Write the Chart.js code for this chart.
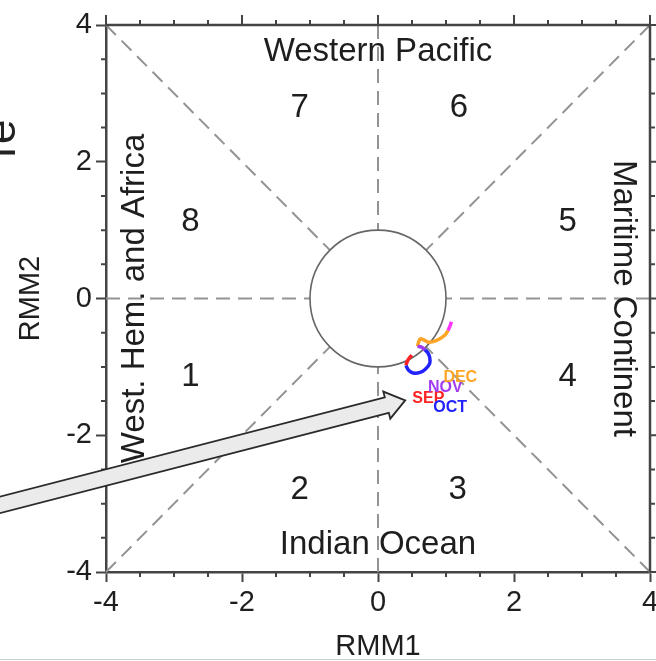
<!DOCTYPE html>
<html>
<head>
<meta charset="utf-8">
<script src="https://cdn.jsdelivr.net/npm/chart.js@4"></script>
<style>
  html, body { margin: 0; padding: 0; background: #fff; overflow: hidden; }
</style>
</head>
<body>
<canvas id="mjoChart" width="656" height="661"></canvas>
<script>
// RMM1 / RMM2 trajectory, one pair of arrays per month
const sepRMM1 = [0.50, 0.46, 0.43, 0.41];
const sepRMM2 = [-0.83, -0.87, -0.92, -0.98];
const octRMM1 = [0.41, 0.45, 0.52, 0.62, 0.70, 0.76, 0.76, 0.73, 0.69];
const octRMM2 = [-0.98, -1.05, -1.09, -1.08, -1.03, -0.95, -0.86, -0.79, -0.75];
const novRMM1 = [0.69, 0.64, 0.58];
const novRMM2 = [-0.75, -0.71, -0.70];
const decRMM1 = [0.58, 0.62, 0.68, 0.74, 0.81, 0.89, 0.99, 1.03];
const decRMM2 = [-0.70, -0.59, -0.61, -0.64, -0.63, -0.60, -0.53, -0.47];
const lastRMM1 = [1.03, 1.06, 1.08];
const lastRMM2 = [-0.47, -0.40, -0.34];

const monthNames = ["SEP", "OCT", "NOV", "DEC"];
const monthColors = ["#ff2222", "#2222ff", "#a23cf0", "#ffa526"];
const lastColor = "#ff33ff";
const monthLabelX = [0.74, 1.06, 0.99, 1.21];
const monthLabelY = [-1.47, -1.60, -1.31, -1.15];

// axis ticks
const tickValues = [-4, -2, 0, 2, 4];
const minorStep = 0.5;

// phase numbers and their places
const phaseNumbers = ["1", "2", "3", "4", "5", "6", "7", "8"];
const phaseX = [-2.76, -1.15, 1.17, 2.79, 2.79, 1.19, -1.15, -2.76];
const phaseY = [-1.15, -2.80, -2.80, -1.15, 1.12, 2.79, 2.79, 1.12];

// region names
const regionNames = ["Western Pacific", "Indian Ocean", "West. Hem. and Africa", "Maritime Continent"];
const regionX = [0, 0, -3.57, 3.60];
const regionY = [3.60, -3.60, 0, 0];
const regionAngle = [0, 0, -90, 90];

// annotation arrow (tail is off the plot, to the left)
const arrowTail = [-5.8, -3.08];
const arrowTip = [0.40, -1.49];

const toPts = (xs, ys) => xs.map((x, i) => ({ x: x, y: ys[i] }));

const FONT = '"Liberation Sans", Arial, Helvetica, sans-serif';

const decorPlugin = {
  id: "decor",
  beforeDatasetsDraw(chart) {
    const { ctx, scales: { x, y } } = chart;
    const ox = x.getPixelForValue(0), oy = y.getPixelForValue(0);
    const rx = x.getPixelForValue(1) - ox, ry = oy - y.getPixelForValue(1);

    // dashed phase boundaries, from the frame in to the unit circle
    ctx.save();
    ctx.strokeStyle = "#939393";
    ctx.lineWidth = 2;
    ctx.setLineDash([14, 8]);
    const dirs = [[1, 0], [1, 1], [0, 1], [-1, 1], [-1, 0], [-1, -1], [0, -1], [1, -1]];
    dirs.forEach(([dx, dy]) => {
      const len = Math.hypot(dx, dy);
      ctx.beginPath();
      ctx.moveTo(x.getPixelForValue(4 * dx), y.getPixelForValue(4 * dy));
      ctx.lineTo(x.getPixelForValue(dx / len), y.getPixelForValue(dy / len));
      ctx.stroke();
    });
    ctx.setLineDash([]);

    // unit circle
    ctx.strokeStyle = "#666";
    ctx.lineWidth = 1.6;
    ctx.beginPath();
    ctx.ellipse(ox, oy, rx, ry, 0, 0, Math.PI * 2);
    ctx.stroke();

    // phase numbers
    ctx.fillStyle = "#1e1e1e";
    ctx.font = "33px " + FONT;
    ctx.textAlign = "center";
    ctx.textBaseline = "middle";
    phaseNumbers.forEach((n, i) => {
      ctx.fillText(n, x.getPixelForValue(phaseX[i]), y.getPixelForValue(phaseY[i]));
    });

    // region names
    regionNames.forEach((t, i) => {
      ctx.save();
      ctx.translate(x.getPixelForValue(regionX[i]), y.getPixelForValue(regionY[i]));
      ctx.rotate(regionAngle[i] * Math.PI / 180);
      ctx.fillText(t, 0, 0);
      ctx.restore();
    });
    ctx.restore();
  },
  afterDatasetsDraw(chart) {
    const { ctx, scales: { x, y }, chartArea: a } = chart;
    ctx.save();

    // frame top and right
    ctx.strokeStyle = "#444";
    ctx.lineWidth = 2.5;
    ctx.beginPath();
    ctx.moveTo(a.left, a.top);
    ctx.lineTo(a.right, a.top);
    ctx.lineTo(a.right, a.bottom);
    ctx.stroke();

    // ticks on all four sides, minor every 0.5
    ctx.lineWidth = 2;
    for (let v = -4; v <= 4.001; v += minorStep) {
      const major = tickValues.includes(Math.round(v * 10) / 10);
      const px = x.getPixelForValue(v), py = y.getPixelForValue(v);
      const len = major ? 10 : 5;
      ctx.beginPath();
      if (!major) {
        ctx.moveTo(px, a.bottom); ctx.lineTo(px, a.bottom + len);
        ctx.moveTo(a.left, py); ctx.lineTo(a.left - len, py);
      }
      ctx.moveTo(px, a.top); ctx.lineTo(px, a.top - len);
      ctx.moveTo(a.right, py); ctx.lineTo(a.right + len, py);
      ctx.stroke();
    }

    // month labels
    ctx.font = "bold 16px " + FONT;
    ctx.textAlign = "center";
    ctx.textBaseline = "middle";
    monthNames.forEach((m, i) => {
      ctx.fillStyle = monthColors[i];
      ctx.fillText(m, x.getPixelForValue(monthLabelX[i]), y.getPixelForValue(monthLabelY[i]));
    });

    // block arrow
    const tx = x.getPixelForValue(arrowTail[0]), ty = y.getPixelForValue(arrowTail[1]);
    const hx = x.getPixelForValue(arrowTip[0]), hy = y.getPixelForValue(arrowTip[1]);
    const L = Math.hypot(hx - tx, hy - ty);
    const ux = (hx - tx) / L, uy = (hy - ty) / L;
    const nx = -uy, ny = ux;
    const sw = 8, hw = 14, hl = 19;
    const bx = hx - ux * hl, by = hy - uy * hl;
    ctx.beginPath();
    ctx.moveTo(tx + nx * sw, ty + ny * sw);
    ctx.lineTo(bx + nx * sw, by + ny * sw);
    ctx.lineTo(bx + nx * hw, by + ny * hw);
    ctx.lineTo(hx, hy);
    ctx.lineTo(bx - nx * hw, by - ny * hw);
    ctx.lineTo(bx - nx * sw, by - ny * sw);
    ctx.lineTo(tx - nx * sw, ty - ny * sw);
    ctx.closePath();
    ctx.fillStyle = "#ebebeb";
    ctx.fill();
    ctx.strokeStyle = "#2a2a2a";
    ctx.lineWidth = 1.8;
    ctx.stroke();

    // cut-off text of the neighbouring panel
    ctx.fillStyle = "#222";
    ctx.font = "44px " + FONT;
    ctx.textAlign = "left";
    ctx.textBaseline = "alphabetic";
    ctx.translate(15, 166);
    ctx.rotate(-Math.PI / 2);
    ctx.fillText("Te", 0, 0);
    ctx.restore();

    // thin line at the bottom edge
    ctx.save();
    ctx.strokeStyle = "#cfcfcf";
    ctx.lineWidth = 1;
    ctx.beginPath();
    ctx.moveTo(0, 659.5);
    ctx.lineTo(656, 659.5);
    ctx.stroke();
    ctx.restore();
  }
};

const lineSet = (label, xs, ys, color) => ({
  label: label,
  data: toPts(xs, ys),
  showLine: true,
  borderColor: color,
  backgroundColor: color,
  borderWidth: 3.5,
  pointRadius: 0,
  tension: 0.3,
  fill: false
});

const axisOpts = (pos, title, fitFn) => ({
  type: "linear",
  position: pos,
  min: -4,
  max: 4,
  ticks: {
    stepSize: 2,
    autoSkip: false,
    color: "#1e1e1e",
    padding: 4,
    font: { family: FONT, size: 29 },
    callback: (v) => String(v)
  },
  grid: {
    display: true,
    drawOnChartArea: false,
    drawTicks: true,
    tickLength: 10,
    tickColor: "#444",
    tickWidth: 2
  },
  border: { display: true, color: "#444", width: 2.5 },
  title: {
    display: true,
    text: title,
    color: "#1e1e1e",
    font: { family: FONT, size: 29, lineHeight: 1.0 },
    padding: pos === "left" ? { top: 16, bottom: 0 } : { top: 0, bottom: 0 }
  },
  afterFit: fitFn
});

new Chart(document.getElementById("mjoChart").getContext("2d"), {
  type: "scatter",
  data: {
    datasets: [
      lineSet("OCT", octRMM1, octRMM2, monthColors[1]),
      lineSet("SEP", sepRMM1, sepRMM2, monthColors[0]),
      lineSet("NOV", novRMM1, novRMM2, monthColors[2]),
      lineSet("DEC", decRMM1, decRMM2, monthColors[3]),
      lineSet("latest", lastRMM1, lastRMM2, lastColor)
    ]
  },
  options: {
    responsive: false,
    animation: false,
    devicePixelRatio: 1,
    layout: { padding: { top: 25, right: 6, left: 0, bottom: 0 } },
    plugins: { legend: { display: false }, tooltip: { enabled: false } },
    scales: {
      x: axisOpts("bottom", "RMM1", (s) => { s.height = 89; s.paddingLeft = 0; s.paddingRight = 0; }),
      y: axisOpts("left", "RMM2", (s) => { s.width = 106; s.paddingTop = 0; s.paddingBottom = 0; })
    }
  },
  plugins: [decorPlugin]
});
</script>
</body>
</html>
